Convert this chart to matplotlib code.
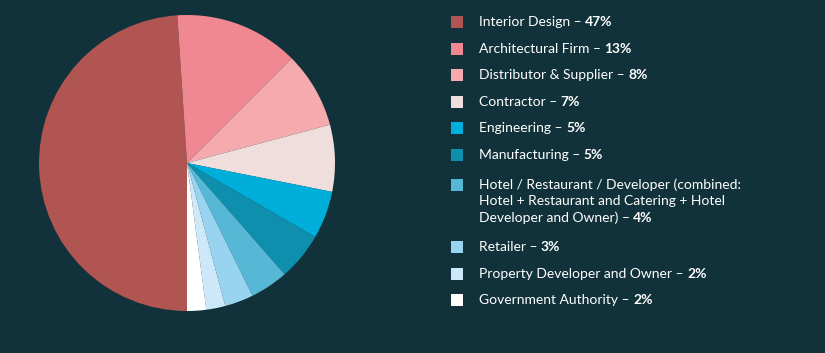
import matplotlib
matplotlib.use("Agg")
import matplotlib.pyplot as plt
from matplotlib.patches import Rectangle

# data
categorias = [
    "Interior Design",
    "Architectural Firm",
    "Distributor & Supplier",
    "Contractor",
    "Engineering",
    "Manufacturing",
    "Hotel / Restaurant / Developer (combined:\nHotel + Restaurant and Catering + Hotel\nDeveloper and Owner)",
    "Retailer",
    "Property Developer and Owner",
    "Government Authority",
]
porcentajes = [47, 13, 8, 7, 5, 5, 4, 3, 2, 2]
colores = ["#b05552", "#f08892", "#f5aaad", "#f0dedd", "#00afd9",
           "#0f8fae", "#56b8d4", "#98d4f0", "#cde8f8", "#ffffff"]

fondo = "#11323a"
plt.rcParams["font.family"] = ["Lato", "DejaVu Sans"]

fig = plt.figure(figsize=(8.25, 3.53), dpi=100, facecolor=fondo)

# pie, centro en (187, 163) px, radio 148 px
W, H = 825, 353
cx, cy, r = 187, 163, 148
ax = fig.add_axes([(cx - r) / W, (H - cy - r) / H, 2 * r / W, 2 * r / H])
ax.pie(porcentajes, colors=colores, startangle=-90, counterclock=False,
       radius=1, wedgeprops=dict(linewidth=0))
ax.set_xlim(-1, 1)
ax.set_ylim(-1, 1)
ax.set_aspect("equal")
ax.axis("off")

# leyenda hecha a mano en coordenadas de pixel
lax = fig.add_axes([0, 0, 1, 1])
lax.set_xlim(0, W)
lax.set_ylim(H, 0)
lax.axis("off")

y = 22
paso = 26.6
alto_linea = 16.5
for cat, pct, col in zip(categorias, porcentajes, colores):
    lineas = cat.split("\n")
    if len(lineas) > 1:
        y += 3
    lax.add_patch(Rectangle((451, y - 6), 12, 12, facecolor=col, edgecolor="none"))
    for i, lin in enumerate(lineas):
        yl = y + i * alto_linea
        t = lax.text(479, yl, lin + " – ", color="white", fontsize=10,
                     va="center", ha="left")
        if i == len(lineas) - 1:
            lax.annotate(f"{pct}%", xy=(1, 0.5), xycoords=t, va="center",
                         ha="left", color="white", fontsize=10, fontweight="bold")
        else:
            t.set_text(lin)
    y += paso + alto_linea * (len(lineas) - 1)
    if len(lineas) > 1:
        y += 3

fig.savefig("out.png", dpi=100, facecolor=fondo)
